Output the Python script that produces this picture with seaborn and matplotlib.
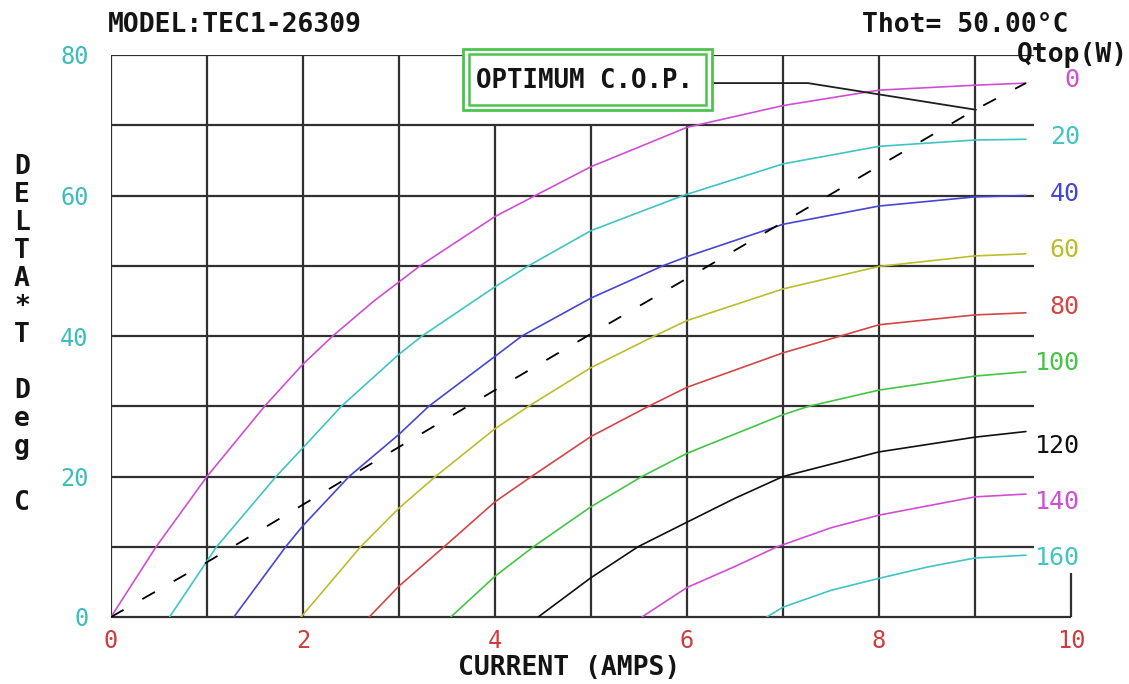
import matplotlib
matplotlib.use("Agg")
import matplotlib.pyplot as plt
from matplotlib.patches import Rectangle
import seaborn as sns
import pandas as pd

# ---------------- data ----------------
qtop_levels = [0, 20, 40, 60, 80, 100, 120, 140, 160]

x_q0 = [0.0, 0.47, 1.0, 1.6, 2.0, 2.31, 2.74, 3.0, 3.22, 4.0, 4.42, 5.0, 6.0, 7.0, 8.0, 9.0, 9.53]
y_q0 = [0.0, 10.0, 20.0, 30.0, 36.0, 40.0, 45.0, 47.7, 50.0, 57.0, 60.0, 64.1, 69.7, 72.8, 75.0, 75.7, 76.0]

x_q20 = [0.61, 1.10, 1.72, 2.0, 2.40, 3.0, 3.24, 4.0, 4.35, 5.0, 5.96, 7.0, 8.0, 9.0, 9.53]
y_q20 = [0.0, 10.0, 20.0, 24.1, 30.0, 37.4, 40.0, 47.0, 50.0, 55.0, 60.0, 64.5, 67.0, 67.9, 68.0]

x_q40 = [1.28, 1.82, 2.0, 2.48, 3.0, 3.31, 4.0, 4.28, 5.0, 5.75, 6.0, 7.0, 8.0, 9.0, 9.53]
y_q40 = [0.0, 10.0, 13.0, 20.0, 26.0, 30.0, 37.1, 40.0, 45.4, 50.0, 51.3, 55.9, 58.5, 59.8, 60.0]

x_q60 = [1.98, 2.60, 3.0, 3.38, 4.0, 4.35, 5.0, 5.66, 6.0, 7.0, 8.0, 9.0, 9.53]
y_q60 = [0.0, 10.0, 15.5, 20.0, 26.8, 30.0, 35.5, 40.0, 42.2, 46.7, 49.9, 51.4, 51.7]

x_q80 = [2.69, 3.0, 3.47, 4.0, 4.38, 5.0, 5.60, 6.0, 7.0, 7.6, 8.0, 9.0, 9.53]
y_q80 = [0.0, 4.4, 10.0, 16.4, 20.0, 25.7, 30.0, 32.7, 37.6, 40.0, 41.6, 43.0, 43.3]

x_q100 = [3.54, 4.0, 4.40, 5.0, 5.53, 6.0, 7.0, 7.27, 8.0, 9.0, 9.53]
y_q100 = [0.0, 5.8, 10.0, 15.7, 20.0, 23.3, 28.8, 30.0, 32.3, 34.3, 34.9]

x_q120 = [4.45, 5.0, 5.49, 6.0, 6.5, 7.0, 8.0, 9.0, 9.53]
y_q120 = [0.0, 5.6, 10.0, 13.5, 16.9, 20.0, 23.5, 25.6, 26.4]

x_q140 = [5.53, 6.0, 6.5, 6.94, 7.5, 8.0, 9.0, 9.53]
y_q140 = [0.0, 4.2, 7.2, 10.0, 12.7, 14.5, 17.1, 17.5]

x_q160 = [6.83, 7.0, 7.5, 8.0, 8.5, 9.0, 9.53]
y_q160 = [0.0, 1.4, 3.8, 5.5, 7.1, 8.4, 8.8]

# optimum C.O.P. locus (dashed)
x_cop = [0.0, 1.0, 2.0, 3.0, 4.0, 5.0, 6.0, 7.0, 8.0, 9.0, 9.53]
y_cop = [0.0, 7.8, 16.0, 24.2, 32.3, 40.3, 48.2, 56.2, 64.2, 72.2, 76.0]

x_ticks = [0, 2, 4, 6, 8, 10]
y_ticks = [0, 20, 40, 60, 80]

title_left = "MODEL:TEC1-26309"
title_right = "Thot= 50.00°C"
x_label = "CURRENT (AMPS)"
y_label_letters = ["D", "E", "L", "T", "A", "*", "T", "", "D", "e", "g", "", "C"]
legend_title = "Qtop(W)"
box_text = "OPTIMUM C.O.P."

# ---------------- styling / layout ----------------
curve_colors = ["#d04ed4", "#40c4c4", "#4646d2", "#bcbc2c", "#d44646",
                "#46c446", "#101010", "#d04ed4", "#40c4c4"]
label_y = [76.4, 68.3, 60.2, 52.2, 44.1, 36.2, 24.3, 16.4, 8.4]
TICK_CYAN = "#3cbcbc"
TICK_RED = "#d03c3c"
GRID = "#303030"
BOX_GREEN = "#4cc44c"
INK = "#141414"
MONO = ["DejaVu Sans Mono"]

xs = [x_q0, x_q20, x_q40, x_q60, x_q80, x_q100, x_q120, x_q140, x_q160]
ys = [y_q0, y_q20, y_q40, y_q60, y_q80, y_q100, y_q120, y_q140, y_q160]
frames = []
for q, xx, yy in zip(qtop_levels, xs, ys):
    frames.append(pd.DataFrame({"current": xx, "dt": yy, "qtop": str(q)}))
df = pd.concat(frames, ignore_index=True)
df_cop = pd.DataFrame({"current": x_cop, "dt": y_cop})

sns.set_theme(style="white")
plt.rcParams["font.family"] = MONO

W, H = 1129, 684
fig = plt.figure(figsize=(W / 100, H / 100), dpi=100)
fig.patch.set_facecolor("white")
ax = fig.add_axes([111 / W, 67 / H, 960 / W, 562 / H])
ax.set_facecolor("white")
ax.set_xlim(0, 10)
ax.set_ylim(0, 80)
for s in ax.spines.values():
    s.set_visible(False)

# grid
for gx in range(0, 10):
    top = 70 if gx in (4, 5, 6) else 80
    ax.vlines(gx, 0, top, color=GRID, lw=1.6, zorder=1)
for gy in range(10, 90, 10):
    ax.hlines(gy, 0, 9.61, color=GRID, lw=1.6, zorder=1)
ax.hlines(0, 0, 10, color=GRID, lw=1.6, zorder=1, clip_on=False)
ax.vlines(10, 0, 6.2, color=GRID, lw=1.6, zorder=1, clip_on=False)

palette = {str(q): c for q, c in zip(qtop_levels, curve_colors)}
sns.lineplot(data=df, x="current", y="dt", hue="qtop", palette=palette,
             estimator=None, sort=False, legend=False, lw=1.2, ax=ax, zorder=3)
sns.lineplot(data=df_cop, x="current", y="dt", color="black", estimator=None,
             legend=False, lw=1.3, linestyle=(0, (8, 12)), ax=ax, zorder=4)

# Optimum C.O.P. box + leader
ax.add_patch(Rectangle((3.667, 72.17), 6.26 - 3.667, 80.85 - 72.17, facecolor="white",
                       edgecolor=BOX_GREEN, lw=2.0, zorder=6, clip_on=False))
ax.add_patch(Rectangle((3.73, 72.9), 6.20 - 3.73, 80.2 - 72.9, facecolor="none",
                       edgecolor=BOX_GREEN, lw=1.8, zorder=7, clip_on=False))
ax.text(4.93, 76.3, box_text, ha="center", va="center", fontsize=18.5,
        fontweight="bold", color=INK, zorder=8, family=MONO)
ax.plot([6.26, 7.26, 9.01], [76.0, 76.0, 72.2], color="#202020", lw=1.3, zorder=5,
        clip_on=False)

# curve labels
for q, c, ly in zip(qtop_levels, curve_colors, label_y):
    ax.text(10.09, ly, str(q), ha="right", va="center", fontsize=18, color=c,
            family=MONO, clip_on=False)

# ticks
ax.set_xticks(x_ticks)
ax.set_xticklabels([str(t) for t in x_ticks])
ax.set_yticks(y_ticks)
ax.set_yticklabels([str(t) for t in y_ticks])
ax.tick_params(axis="x", length=0, pad=9, labelsize=17, labelcolor=TICK_RED)
ax.tick_params(axis="y", length=0, pad=16, labelsize=17, labelcolor=TICK_CYAN)
for lab in ax.get_xticklabels() + ax.get_yticklabels():
    lab.set_family(MONO)

ax.set_xlabel(x_label, fontsize=19, fontweight="bold", color=INK, family=MONO)
ax.xaxis.set_label_coords(4.77 / 10, -(655 - 617) / 562)
ax.set_ylabel("")

# titles
fig.text(108 / W, 1 - 25 / H, title_left, ha="left", va="center", fontsize=19,
         fontweight="bold", color=INK, family=MONO)
fig.text(1068 / W, 1 - 25 / H, title_right, ha="right", va="center", fontsize=19,
         fontweight="bold", color=INK, family=MONO)
fig.text(1128 / W, 1 - 55 / H, legend_title, ha="right", va="center", fontsize=19,
         fontweight="bold", color=INK, family=MONO)

# stacked y label
for i, ch in enumerate(y_label_letters):
    if ch:
        fig.text(22 / W, 1 - (167 + 28 * i) / H, ch, ha="center", va="center",
                 fontsize=19, fontweight="bold", color=INK, family=MONO)

fig.savefig("out.png", dpi=100, facecolor="white")
